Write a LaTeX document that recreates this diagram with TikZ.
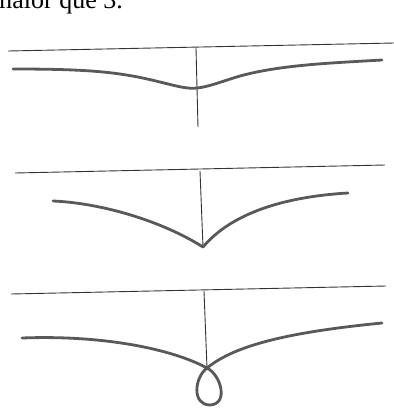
\documentclass[tikz,border=0pt]{standalone}
\usepackage{fontspec}
\setmainfont{Liberation Serif}
\begin{document}
\begin{tikzpicture}[x=1pt,y=-1pt,
  thinline/.style={draw=black!80, line width=0.9pt},
  thickline/.style={draw=black!65, line width=2.8pt, line cap=round, line join=round}]
\useasboundingbox (0,0) rectangle (394,408);
\clip (0,0) rectangle (394,408);
\fill[white] (0,0) rectangle (394,408);
\node[anchor=base west, inner sep=0pt, font=\fontsize{26}{30}\selectfont] (caption) at (-8,8) {maior que 3.};
% panel 1
\draw[thinline] (8,51) -- (394,43);
\draw[thinline] (196,48) -- (198,127);
\draw[thickline] (13,69) .. controls (90,69) and (120,72) .. (160,82)
  .. controls (180,87) and (188,89) .. (197,88)
  .. controls (208,87) and (220,82) .. (240,76)
  .. controls (280,65) and (330,63) .. (382,60);
% panel 2
\draw[thinline] (15,173) -- (385,165);
\draw[thinline] (200,171) -- (203,247);
\draw[thickline] (53,201) .. controls (100,203) and (160,220) .. (203,247);
\draw[thickline] (203,247) .. controls (230,215) and (280,197) .. (348,193);
% panel 3
\draw[thinline] (11,294) -- (386,286);
\draw[thinline] (204,291) -- (207,368);
\draw[thickline] (22,338) .. controls (100,335) and (170,348) .. (207,368)
  .. controls (221,375) and (229,404) .. (210,405)
  .. controls (192,405) and (194,378) .. (207,368)
  .. controls (235,345) and (290,332) .. (382,323);
\end{tikzpicture}
\end{document}
